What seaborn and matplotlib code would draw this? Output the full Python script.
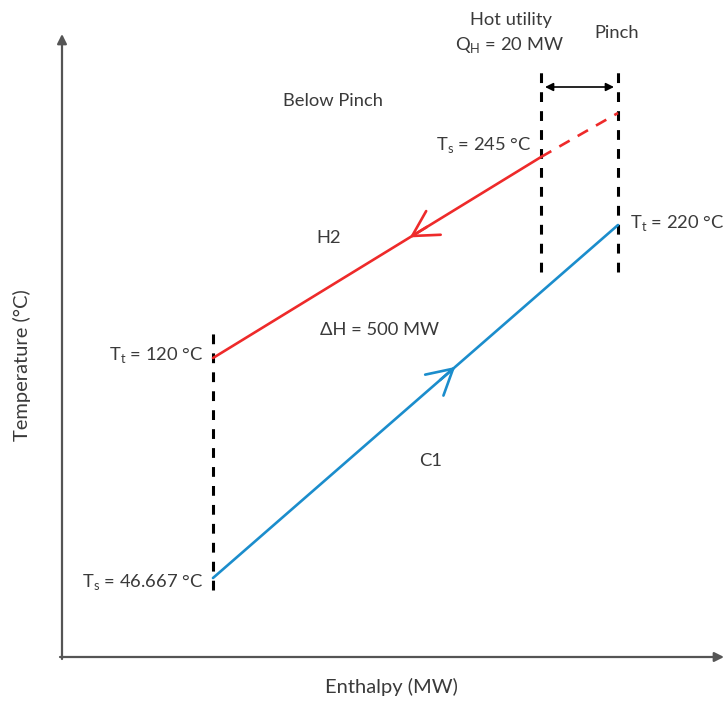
import numpy as np
import matplotlib
matplotlib.use("Agg")
import matplotlib.pyplot as plt
import seaborn as sns

# ---- schematic data (enthalpy / temperature positions, arbitrary schematic units) ----
h2_enthalpy = [479, 151]          # H2 hot stream: Ts=245 -> Tt=120
h2_temp = [500, 299]
h2_ext_enthalpy = [479, 556]      # dashed continuation up to pinch
h2_ext_temp = [500, 544]
c1_enthalpy = [151, 556]          # C1 cold stream: Ts=46.667 -> Tt=220
c1_temp = [79, 432]
vline_left_x = 151
vline_left_span = [67, 329]
vline_hot_x = 479
vline_pinch_x = 556
vline_right_span = [385, 592]
gap_arrow_temp = 570

labels_text = ["Hot utility", "Below Pinch", "Pinch", "H2", "C1", "ΔH = 500 MW"]

sns.set_theme(style="white")
plt.rcParams['font.family'] = ['Lato', 'DejaVu Sans']
plt.rcParams['mathtext.fontset'] = 'custom'
plt.rcParams['mathtext.rm'] = 'Lato'

fig = plt.figure(figsize=(7.24, 7.06), dpi=100)
ax = fig.add_axes([0, 0, 1, 1])
ax.set_xlim(-62, 662)
ax.set_ylim(-49, 657)
ax.axis('off')

RED = '#ee2a2a'
BLUE = '#1b8dcc'
TXT = '#3a3a3a'

# axes with arrows
ax.annotate('', xy=(0, 623), xytext=(0, -2),
            arrowprops=dict(arrowstyle='-|>', color='#555555', lw=1.6,
                            mutation_scale=14, shrinkA=0, shrinkB=0))
ax.annotate('', xy=(662, 0), xytext=(-2, 0),
            arrowprops=dict(arrowstyle='-|>', color='#555555', lw=1.6,
                            mutation_scale=14, shrinkA=0, shrinkB=0))

# dashed vertical lines
dash = (0, (3.2, 3.0))
ax.plot([vline_left_x]*2, vline_left_span, color='black', lw=2.2, linestyle=dash)
ax.plot([vline_hot_x]*2, vline_right_span, color='black', lw=2.2, linestyle=dash)
ax.plot([vline_pinch_x]*2, vline_right_span, color='black', lw=2.2, linestyle=dash)

# streams
sns.lineplot(x=h2_enthalpy, y=h2_temp, color=RED, lw=1.9, ax=ax, sort=False)
sns.lineplot(x=h2_ext_enthalpy, y=h2_ext_temp, color=RED, lw=1.9, ax=ax,
             sort=False, linestyle=(0, (4.5, 3.5)))
sns.lineplot(x=c1_enthalpy, y=c1_temp, color=BLUE, lw=1.9, ax=ax, sort=False)

# direction arrows (open chevrons)
def chevron(xs, ys, frac, color):
    x0, x1 = xs
    y0, y1 = ys
    tx = x0 + frac * (x1 - x0)
    ty = y0 + frac * (y1 - y0)
    d = np.array([x1 - x0, y1 - y0], float)
    d /= np.linalg.norm(d)
    back = tx - 20 * d[0], ty - 20 * d[1]
    ax.annotate('', xy=(tx, ty), xytext=back,
                arrowprops=dict(arrowstyle='->,head_length=0.45,head_width=0.25',
                                color=color, lw=1.9, mutation_scale=40,
                                shrinkA=0, shrinkB=0))

chevron(h2_enthalpy, h2_temp, 0.40, RED)
chevron(c1_enthalpy, c1_temp, 0.598, BLUE)

# double arrow between hot utility and pinch
ax.annotate('', xy=(vline_pinch_x - 4, gap_arrow_temp), xytext=(vline_hot_x + 4, gap_arrow_temp),
            arrowprops=dict(arrowstyle='<|-|>', color='black', lw=1.2,
                            mutation_scale=12, shrinkA=0, shrinkB=0))

fs = 13.2
afs = 14.5
ax.text(449, 637, labels_text[0], fontsize=fs, color=TXT, ha='center', va='center')
ax.text(448, 612, r'Q$_\mathregular{H}$ = 20 MW', fontsize=fs, color=TXT, ha='center', va='center')
ax.text(555, 624, labels_text[2], fontsize=fs, color=TXT, ha='center', va='center')
ax.text(271, 556, labels_text[1], fontsize=fs, color=TXT, ha='center', va='center')
ax.text(469, 512, r'T$_\mathregular{s}$ = 245 °C', fontsize=fs, color=TXT, ha='right', va='center')
ax.text(267, 419, labels_text[3], fontsize=fs, color=TXT, ha='center', va='center')
ax.text(568, 434, r'T$_\mathregular{t}$ = 220 °C', fontsize=fs, color=TXT, ha='left', va='center')
ax.text(318, 327, labels_text[5], fontsize=fs, color=TXT, ha='center', va='center')
ax.text(141, 302, r'T$_\mathregular{t}$ = 120 °C', fontsize=fs, color=TXT, ha='right', va='center')
ax.text(369, 196, labels_text[4], fontsize=fs, color=TXT, ha='center', va='center')
ax.text(141, 75, r'T$_\mathregular{s}$ = 46.667 °C', fontsize=fs, color=TXT, ha='right', va='center')
ax.text(-40, 292, 'Temperature (°C)', fontsize=afs, color=TXT, ha='center', va='center', rotation=90)
ax.text(329, -30, 'Enthalpy (MW)', fontsize=afs, color=TXT, ha='center', va='center')

fig.savefig('out.png', dpi=100)
